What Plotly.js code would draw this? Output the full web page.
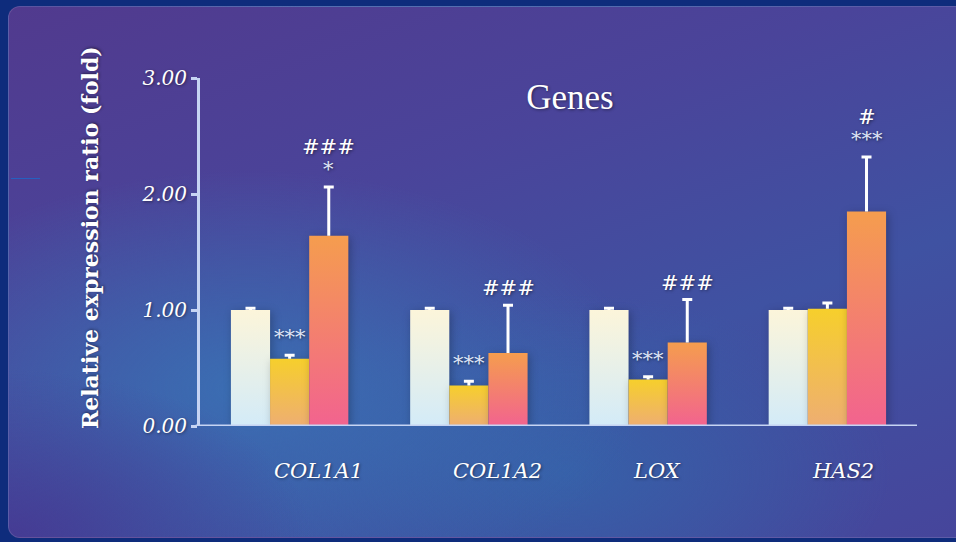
<!DOCTYPE html>
<html>
<head>
<meta charset="utf-8">
<script src="https://cdn.plot.ly/plotly-3.0.1.min.js"></script>
<style>
  html, body { margin: 0; padding: 0; width: 956px; height: 542px; overflow: hidden; background: #0e2c7c; }
  #panel {
    position: absolute; left: 8px; top: 6px; width: 962px; height: 532px;
    border-radius: 12px; border: 1px solid rgba(255,255,255,0.12); box-sizing: border-box;
    background:
      radial-gradient(ellipse 45% 45% at 0% 100%, rgba(70,55,145,0.85), rgba(70,55,145,0) 70%),
      radial-gradient(ellipse 55% 55% at 25% 72%, rgba(58,112,180,0.95), rgba(58,112,180,0) 75%),
      radial-gradient(ellipse 45% 45% at 58% 88%, rgba(52,100,170,0.8), rgba(52,100,170,0) 75%),
      linear-gradient(160deg, #513a8e 0%, #4a449a 35%, #3f52a2 65%, #46459b 100%);
  }
  #mark { position: absolute; left: 11px; top: 178px; width: 29px; height: 1px; background: #2560c0; }
  #chart { position: absolute; left: 0; top: 0; width: 956px; height: 542px; }
</style>
</head>
<body>
<div id="panel"></div>
<div id="mark"></div>
<div id="chart"></div>
<script>
// ---- data ----
const genes = ["COL1A1", "COL1A2", "LOX", "HAS2"];
const seriesNames = ["Control", "Group 2", "Group 3"];
const control = [1.00, 1.00, 1.00, 1.00];
const group2 = [0.58, 0.35, 0.40, 1.01];
const group3 = [1.64, 0.63, 0.72, 1.85];
const controlErr = [0.015, 0.015, 0.015, 0.015];
const group2Err = [0.03, 0.035, 0.025, 0.05];
const group3Err = [0.42, 0.41, 0.37, 0.47];
const starLabels = [["", "***", "*"], ["", "***", ""], ["", "***", ""], ["", "", "***"]];
const hashLabels = [["", "", "###"], ["", "", "###"], ["", "", "###"], ["", "", "#"]];
const yTicks = [0, 1, 2, 3];
const yTickText = ["0.00", "1.00", "2.00", "3.00"];

// ---- styles ----
const gradients = [
  ["#fcf5da", "#d3ebf8"],
  ["#f6cf2c", "#eeae72"],
  ["#f59d4e", "#f2638f"]
];
const values = [control, group2, group3];
const errs = [controlErr, group2Err, group3Err];
const axisColor = "#c6d4f3";
const serif = "DejaVu Serif";
const shadow = "1px 1px 3px rgba(0,0,0,0.45)";
const bargap = 0.345;

const traces = values.map((v, s) => ({
  type: "bar",
  name: seriesNames[s],
  x: genes,
  y: v,
  marker: { color: gradients[s][0], line: { width: 0 } },
  error_y: { type: "data", array: errs[s], arrayminus: v.map(() => 0), symmetric: false,
             color: "#ffffff", thickness: 3, width: 5 },
  hoverinfo: "x+y"
}));

const plotW = 956 - 200 - 39;
const barPx = plotW / genes.length * (1 - bargap) / 3;

const annotations = [];
genes.forEach((g, i) => {
  for (let s = 0; s < 3; s++) {
    const top = values[s][i] + errs[s][i];
    const hasStar = starLabels[i][s] !== "";
    if (hasStar) {
      annotations.push({ x: g, y: top, xref: "x", yref: "y", text: starLabels[i][s],
        showarrow: false, xshift: (s - 1) * barPx, yshift: 18, yanchor: "middle",
        font: { family: serif, size: 21, color: "#dfe6f7", shadow: shadow } });
    }
    if (hashLabels[i][s] !== "") {
      annotations.push({ x: g, y: top, xref: "x", yref: "y", text: "<i>" + hashLabels[i][s] + "</i>",
        showarrow: false, xshift: (s - 1) * barPx, yshift: hasStar ? 40 : 17, yanchor: "middle",
        font: { family: serif, size: 21, color: "#ffffff", shadow: shadow } });
    }
  }
  annotations.push({ x: g, y: 0, xref: "x", yref: "paper", text: "<i>" + g + "</i>",
    showarrow: false, xanchor: "left", yanchor: "middle", xshift: -barPx / 2 + 2, yshift: -45,
    font: { family: serif, size: 21, color: "#ffffff", shadow: shadow } });
});
annotations.push({ x: 0, y: 0.54, xref: "paper", yref: "paper", xshift: -110,
  text: "<b>Relative expression ratio (fold)</b>", textangle: -90, showarrow: false,
  xanchor: "center", yanchor: "middle",
  font: { family: serif, size: 22, color: "#ffffff", shadow: shadow } });

const layout = {
  width: 956, height: 542,
  margin: { l: 200, r: 39, t: 78, b: 116 },
  paper_bgcolor: "rgba(0,0,0,0)",
  plot_bgcolor: "rgba(0,0,0,0)",
  showlegend: false,
  barmode: "group",
  bargap: bargap,
  bargroupgap: 0,
  title: { text: "Genes", x: 570 / 956, xanchor: "center", y: 1 - 97 / 542, yanchor: "middle",
           xref: "container", yref: "container",
           font: { family: "Liberation Serif", size: 35, color: "#ffffff", shadow: shadow } },
  xaxis: {
    type: "category", showticklabels: false, ticks: "", showgrid: false, zeroline: false,
    showline: false, range: [-0.5, genes.length - 0.5], fixedrange: true
  },
  yaxis: {
    range: [0, 3], tickvals: yTicks, ticktext: yTickText,
    tickfont: { family: serif, size: 20, color: "#ffffff", style: "italic", shadow: shadow },
    ticks: "outside", ticklen: 6, tickwidth: 3, tickcolor: axisColor, ticklabelstandoff: 0,
    showline: true, linecolor: axisColor, linewidth: 3,
    showgrid: false, zeroline: false, fixedrange: true
  },
  shapes: [
    { type: "line", xref: "paper", yref: "y", x0: -0.006, x1: 1, y0: 0, y1: 0,
      line: { color: axisColor, width: 3 } }
  ],
  annotations: annotations
};

Plotly.newPlot("chart", traces, layout, { displayModeBar: false, staticPlot: true }).then(gd => {
  const svg = gd.querySelector(".main-svg");
  const ns = "http://www.w3.org/2000/svg";
  let defs = svg.querySelector("defs");
  if (!defs) { defs = document.createElementNS(ns, "defs"); svg.insertBefore(defs, svg.firstChild); }
  gradients.forEach((g, s) => {
    const lg = document.createElementNS(ns, "linearGradient");
    lg.setAttribute("id", "barGrad" + s);
    lg.setAttribute("x1", "0"); lg.setAttribute("y1", "0");
    lg.setAttribute("x2", "0"); lg.setAttribute("y2", "1");
    [[0, g[0]], [1, g[1]]].forEach(([o, c]) => {
      const st = document.createElementNS(ns, "stop");
      st.setAttribute("offset", o); st.setAttribute("stop-color", c);
      lg.appendChild(st);
    });
    defs.appendChild(lg);
  });
  gd.querySelectorAll(".barlayer .trace").forEach((tg, s) => {
    tg.querySelectorAll(".point path").forEach(p => {
      p.style.fill = "url(#barGrad" + s + ")";
      p.style.filter = "drop-shadow(2px 2px 4px rgba(0,0,0,0.25))";
    });
  });
  // keep only the upper cap of each error bar (the lower end sits on the bar top)
  gd.querySelectorAll(".errorbar path.yerror").forEach(p => {
    const d = p.getAttribute("d") || "";
    p.setAttribute("d", d.replace(/m-?[\d.]+,0h[\d.]+\s*$/, ""));
  });
});
</script>
</body>
</html>
